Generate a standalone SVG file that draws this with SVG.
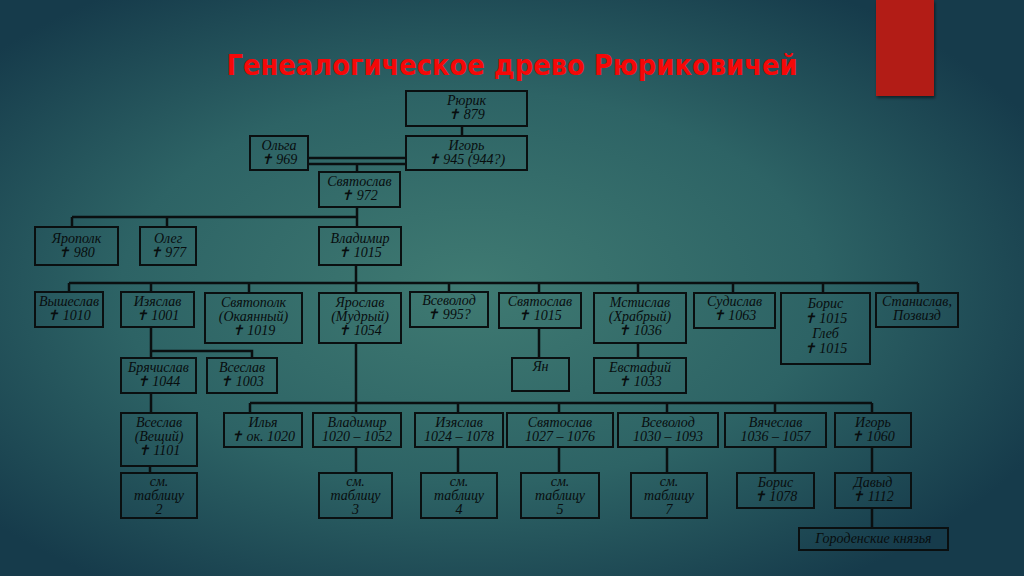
<svg xmlns="http://www.w3.org/2000/svg" width="1024" height="576" viewBox="0 0 1024 576">
<defs>
<radialGradient id="bg" cx="0.46" cy="0.5" r="0.62">
<stop offset="0" stop-color="#3f7a72"/>
<stop offset="0.55" stop-color="#2d6365"/>
<stop offset="1" stop-color="#163b4b"/>
</radialGradient>
<filter id="sh" x="-20%" y="-10%" width="140%" height="130%">
<feDropShadow dx="1" dy="2" stdDeviation="1.5" flood-color="#000" flood-opacity="0.5"/>
</filter>
<style>
.b{fill:none;stroke:#0a0f10;stroke-width:2}
.t{font-family:"Liberation Serif","DejaVu Serif",serif;font-style:italic;font-size:14px;fill:#080d0e;text-anchor:middle}
.c{fill:none;stroke:#0a0f10;stroke-width:2.5}
</style>
</defs>
<rect width="1024" height="576" fill="url(#bg)"/>
<rect x="876" y="0" width="58" height="96" fill="#b21b16" filter="url(#sh)"/>
<text x="512" y="75" font-family="'DejaVu Sans','Liberation Sans',sans-serif" font-weight="bold" font-size="28" fill="#f50808" text-anchor="middle" textLength="571" lengthAdjust="spacingAndGlyphs">Генеалогическое древо Рюриковичей</text>

<g id="connectors">
<path class="c" d="M462 126V136"/>
<path class="c" d="M308 158H406M308 164H406M357 164V172"/>
<path class="c" d="M357 207V227M72 217H357M72 217V227M167 217V227"/>
<path class="c" d="M356 265V293M69 283H918M69 283V292M151 283V292M249 283V293M449 283V292M539 283V293M638 283V293M733 283V293M823 283V293M918 283V293"/>
<path class="c" d="M151 327V358M151 351H252V358"/>
<path class="c" d="M539 328V358M638 343V358"/>
<path class="c" d="M151 393V413M150 466V473"/>
<path class="c" d="M356 343V413M250 403H872M250 403V413M458 403V413M559 403V413M667 403V413M775 403V413M872 403V413"/>
<path class="c" d="M356 447V473M458 447V473M559 447V473M667 447V473M775 447V473M872 447V473M872 508V528"/>
</g>

<g id="rurik"><rect class="b" x="406" y="91" width="121" height="35"/><text class="t" x="466.5" y="105">Рюрик</text><text class="t" x="466.5" y="119">✝ 879</text></g>
<g id="igor"><rect class="b" x="406" y="136" width="121" height="34"/><text class="t" x="466.5" y="150">Игорь</text><text class="t" x="466.5" y="164">✝ 945 (944?)</text></g>
<g id="olga"><rect class="b" x="250" y="136" width="58" height="34"/><text class="t" x="279" y="150">Ольга</text><text class="t" x="279" y="164">✝ 969</text></g>
<g id="svyatoslav"><rect class="b" x="319" y="172" width="81" height="35"/><text class="t" x="359.5" y="186">Святослав</text><text class="t" x="359.5" y="200">✝ 972</text></g>

<g id="yaropolk"><rect class="b" x="35" y="227" width="83" height="38"/><text class="t" x="76.5" y="243">Ярополк</text><text class="t" x="76.5" y="257">✝ 980</text></g>
<g id="oleg"><rect class="b" x="140" y="227" width="56" height="38"/><text class="t" x="168" y="243">Олег</text><text class="t" x="168" y="257">✝ 977</text></g>
<g id="vladimir"><rect class="b" x="319" y="227" width="82" height="38"/><text class="t" x="360" y="243">Владимир</text><text class="t" x="360" y="257">✝ 1015</text></g>

<g id="vysheslav"><rect class="b" x="35" y="292" width="68" height="35"/><text class="t" x="69" y="306">Вышеслав</text><text class="t" x="69" y="320">✝ 1010</text></g>
<g id="izyaslav"><rect class="b" x="121" y="292" width="73" height="35"/><text class="t" x="157.5" y="306">Изяслав</text><text class="t" x="157.5" y="320">✝ 1001</text></g>
<g id="svyatopolk"><rect class="b" x="205" y="293" width="97" height="50"/><text class="t" x="253.5" y="307">Святополк</text><text class="t" x="253.5" y="321">(Окаянный)</text><text class="t" x="253.5" y="335">✝ 1019</text></g>
<g id="yaroslav"><rect class="b" x="319" y="293" width="82" height="50"/><text class="t" x="360" y="307">Ярослав</text><text class="t" x="360" y="321">(Мудрый)</text><text class="t" x="360" y="335">✝ 1054</text></g>
<g id="vsevolod"><rect class="b" x="410" y="292" width="78" height="35"/><text class="t" x="449" y="305">Всеволод</text><text class="t" x="449" y="319">✝ 995?</text></g>
<g id="svyatoslav2"><rect class="b" x="499" y="293" width="82" height="35"/><text class="t" x="540" y="306">Святослав</text><text class="t" x="540" y="320">✝ 1015</text></g>
<g id="mstislav"><rect class="b" x="594" y="293" width="92" height="50"/><text class="t" x="640" y="307">Мстислав</text><text class="t" x="640" y="321">(Храбрый)</text><text class="t" x="640" y="335">✝ 1036</text></g>
<g id="sudislav"><rect class="b" x="694" y="293" width="81" height="35"/><text class="t" x="734.5" y="306">Судислав</text><text class="t" x="734.5" y="320">✝ 1063</text></g>
<g id="borisgleb"><rect class="b" x="781" y="293" width="89" height="71"/><text class="t" x="825.5" y="308">Борис</text><text class="t" x="825.5" y="323">✝ 1015</text><text class="t" x="825.5" y="338">Глеб</text><text class="t" x="825.5" y="353">✝ 1015</text></g>
<g id="stanislav"><rect class="b" x="876" y="293" width="82" height="34"/><text class="t" x="917" y="306">Станислав,</text><text class="t" x="917" y="320">Позвизд</text></g>

<g id="bryachislav"><rect class="b" x="121" y="358" width="75" height="35"/><text class="t" x="158.5" y="372">Брячислав</text><text class="t" x="158.5" y="386">✝ 1044</text></g>
<g id="vseslav"><rect class="b" x="207" y="358" width="70" height="35"/><text class="t" x="242" y="372">Всеслав</text><text class="t" x="242" y="386">✝ 1003</text></g>
<g id="yan"><rect class="b" x="512" y="358" width="57" height="33"/><text class="t" x="540.5" y="371">Ян</text></g>
<g id="evstafiy"><rect class="b" x="594" y="358" width="92" height="35"/><text class="t" x="640" y="372">Евстафий</text><text class="t" x="640" y="386">✝ 1033</text></g>

<g id="vseslav-veshchiy"><rect class="b" x="121" y="413" width="76" height="53"/><text class="t" x="159" y="427">Всеслав</text><text class="t" x="159" y="441">(Вещий)</text><text class="t" x="159" y="455">✝ 1101</text></g>
<g id="ilya"><rect class="b" x="224" y="413" width="78" height="34"/><text class="t" x="263" y="427">Илья</text><text class="t" x="263" y="441">✝ ок. 1020</text></g>
<g id="vladimir2"><rect class="b" x="313" y="413" width="88" height="34"/><text class="t" x="357" y="427">Владимир</text><text class="t" x="357" y="441">1020 – 1052</text></g>
<g id="izyaslav2"><rect class="b" x="415" y="413" width="88" height="34"/><text class="t" x="459" y="427">Изяслав</text><text class="t" x="459" y="441">1024 – 1078</text></g>
<g id="svyatoslav3"><rect class="b" x="507" y="413" width="106" height="34"/><text class="t" x="560" y="427">Святослав</text><text class="t" x="560" y="441">1027 – 1076</text></g>
<g id="vsevolod2"><rect class="b" x="618" y="413" width="100" height="34"/><text class="t" x="668" y="427">Всеволод</text><text class="t" x="668" y="441">1030 – 1093</text></g>
<g id="vyacheslav"><rect class="b" x="725" y="413" width="101" height="34"/><text class="t" x="775.5" y="427">Вячеслав</text><text class="t" x="775.5" y="441">1036 – 1057</text></g>
<g id="igor2"><rect class="b" x="835" y="413" width="76" height="34"/><text class="t" x="873" y="427">Игорь</text><text class="t" x="873" y="441">✝ 1060</text></g>

<g id="table2"><rect class="b" x="121" y="473" width="76" height="45"/><text class="t" x="159" y="486">см.</text><text class="t" x="159" y="500">таблицу</text><text class="t" x="159" y="514">2</text></g>
<g id="table3"><rect class="b" x="319" y="473" width="73" height="45"/><text class="t" x="355.5" y="486">см.</text><text class="t" x="355.5" y="500">таблицу</text><text class="t" x="355.5" y="514">3</text></g>
<g id="table4"><rect class="b" x="421" y="473" width="76" height="45"/><text class="t" x="459" y="486">см.</text><text class="t" x="459" y="500">таблицу</text><text class="t" x="459" y="514">4</text></g>
<g id="table5"><rect class="b" x="521" y="473" width="78" height="45"/><text class="t" x="560" y="486">см.</text><text class="t" x="560" y="500">таблицу</text><text class="t" x="560" y="514">5</text></g>
<g id="table7"><rect class="b" x="631" y="473" width="76" height="45"/><text class="t" x="669" y="486">см.</text><text class="t" x="669" y="500">таблицу</text><text class="t" x="669" y="514">7</text></g>
<g id="boris2"><rect class="b" x="737" y="473" width="77" height="35"/><text class="t" x="775.5" y="487">Борис</text><text class="t" x="775.5" y="501">✝ 1078</text></g>
<g id="david"><rect class="b" x="835" y="473" width="76" height="35"/><text class="t" x="873" y="487">Давыд</text><text class="t" x="873" y="501">✝ 1112</text></g>
<g id="gorodensk"><rect class="b" x="799" y="528" width="149" height="22"/><text class="t" x="873.5" y="543">Городенские князья</text></g>
</svg>
